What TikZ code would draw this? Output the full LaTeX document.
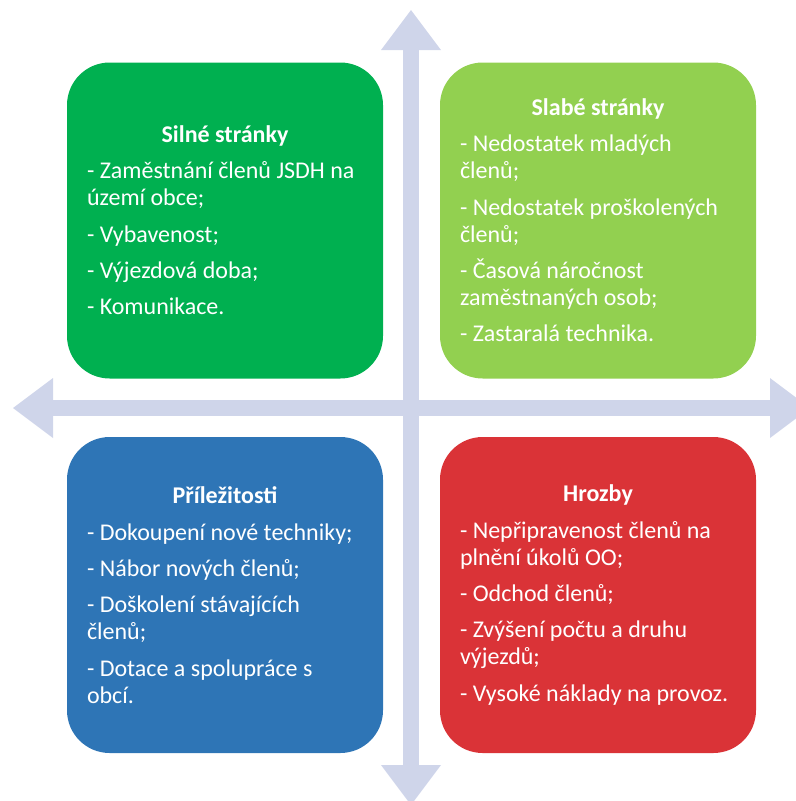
\documentclass[tikz,border=0pt]{standalone}
\usepackage{fontspec}
\setmainfont{Carlito}
\usetikzlibrary{arrows.meta}

\definecolor{strongGreen}{HTML}{00B050}
\definecolor{weakGreen}{HTML}{92D050}
\definecolor{chanceBlue}{HTML}{2E75B6}
\definecolor{threatRed}{HTML}{DA3337}
\definecolor{axisGray}{HTML}{CFD5EA}

\begin{document}
\begin{tikzpicture}[
            x=0.75pt, y=-0.75pt,
                quad/.style={rectangle, rounded corners=32pt, minimum width=237pt, minimum height=237pt, inner sep=0pt,
                    text width=207pt, align=flush left, text=white, font=\fontsize{18}{20.25}\selectfont,
                    execute at begin node={\setlength{\parskip}{7pt}}},
                axis/.style={draw=axisGray, line width=11.6pt,
                    {Triangle[length=30pt, width=45pt, line width=0pt]}-{Triangle[length=30pt, width=45pt, line width=0pt]}}
            ]
              \clip (0,0) rectangle (796,801);

              % cross of axes
              \coordinate (west) at (13,408);
              \coordinate (east) at (810,408);
              \coordinate (north) at (411,10);
              \coordinate (south) at (411,805);
              \draw[axis] (west) -- (east);
              \draw[axis] (north) -- (south);

              % four quadrants
              \node[quad, fill=strongGreen] (strengths) at (225,220.5) {%
                {\centering\bfseries Silné stránky\par}
                - Zaměstnání členů JSDH na\\území obce;\par
                - Vybavenost;\par
                - Výjezdová doba;\par
                - Komunikace.};

              \node[quad, fill=weakGreen] (weaknesses) at (598,220.5) {%
                {\centering\bfseries Slabé stránky\par}
                - Nedostatek mladých\\členů;\par
                - Nedostatek proškolených\\členů;\par
                - Časová náročnost\\zaměstnaných osob;\par
                - Zastaralá technika.};

              \node[quad, fill=chanceBlue] (opportunities) at (225,595) {%
                {\centering\bfseries Příležitosti\par}
                - Dokoupení nové techniky;\par
                - Nábor nových členů;\par
                - Doškolení stávajících\\členů;\par
                - Dotace a spolupráce s\\obcí.};

              \node[quad, fill=threatRed] (threats) at (598,595) {%
                {\centering\bfseries Hrozby\par}
                - Nepřipravenost členů na\\plnění úkolů OO;\par
                - Odchod členů;\par
                - Zvýšení počtu a druhu\\výjezdů;\par
                - Vysoké náklady na provoz.};
            \end{tikzpicture}
\end{document}
